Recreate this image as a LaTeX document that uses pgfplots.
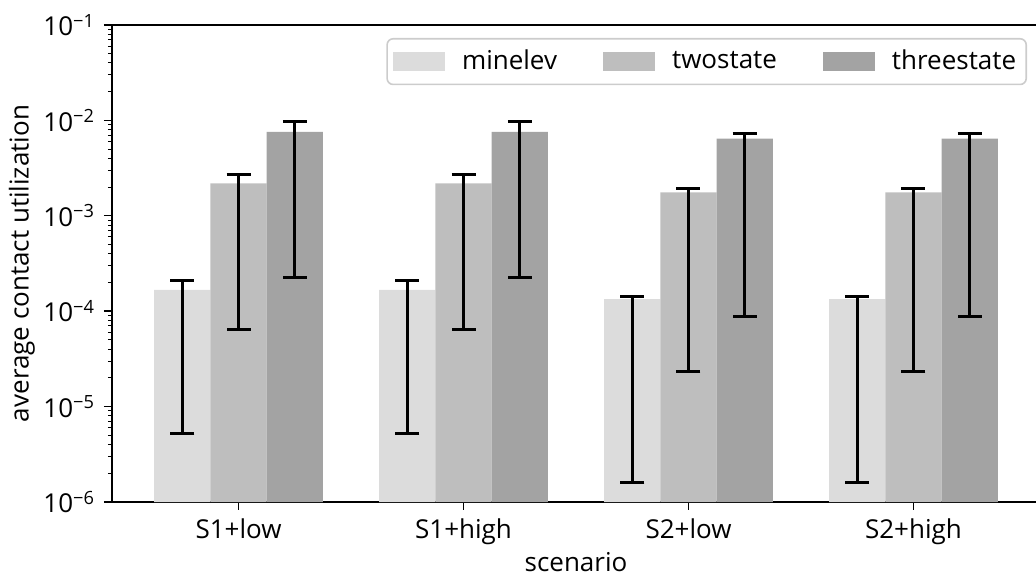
\documentclass[border=0pt]{standalone}
\usepackage{pgfplots}
\pgfplotsset{compat=1.18}
\usepackage{fontspec}
\setmainfont{Open Sans}
\definecolor{cMin}{RGB}{220,220,220}
\definecolor{cTwo}{RGB}{190,190,190}
\definecolor{cThree}{RGB}{163,163,163}
\begin{document}
\fontsize{13pt}{15pt}\selectfont
\begin{tikzpicture}
\begin{axis}[
  scale only axis,
  width=464pt, height=238.5pt,
  ymode=log,
  log origin y=infty,
  ymin=1e-6, ymax=1e-1,
  xmin=-0.5625, xmax=3.5625,
  xtick={0,1,2,3},
  xticklabels={S1+low,S1+high,S2+low,S2+high},
  ytick={1e-6,1e-5,1e-4,1e-3,1e-2,1e-1},
  minor ytick={2e-6,3e-6,4e-6,5e-6,6e-6,7e-6,8e-6,9e-6,
               2e-5,3e-5,4e-5,5e-5,6e-5,7e-5,8e-5,9e-5,
               2e-4,3e-4,4e-4,5e-4,6e-4,7e-4,8e-4,9e-4,
               2e-3,3e-3,4e-3,5e-3,6e-3,7e-3,8e-3,9e-3,
               2e-2,3e-2,4e-2,5e-2,6e-2,7e-2,8e-2,9e-2},
  yticklabels={10\textsuperscript{−6},10\textsuperscript{−5},10\textsuperscript{−4},10\textsuperscript{−3},10\textsuperscript{−2},10\textsuperscript{−1}},
  tick pos=left,
  tick align=outside,
  major tick length=4pt,
  minor tick length=2pt,
  tick style={black, line width=0.7pt},
  minor tick style={black, line width=0.5pt},
  axis line style={line width=0.8pt},
  ybar=0pt,
  bar width=0.25,
  xlabel={scenario},
  ylabel={average contact utilization},
  every axis x label/.style={at={(axis description cs:0.5,-0.127)}, anchor=center},
  every axis y label/.style={at={(axis description cs:-0.097,0.5)}, rotate=90, anchor=center},
  legend columns=3,
  legend style={at={(1,1)}, anchor=north east, xshift=-6.5pt, yshift=-6.5pt,
    draw=black!20, line width=0.8pt, rounded corners=3pt, fill=white,
    inner xsep=3pt, inner ysep=3.5pt,
    /tikz/every odd column/.append style={column sep=6.5pt},
    /tikz/every even column/.append style={column sep=21pt}},
  legend image code/.code={\fill[#1, sharp corners] (0pt,-4.75pt) rectangle (26pt,4.75pt);},
  error bars/y dir=both,
  error bars/y explicit,
  error bars/error mark options={rotate=90, mark size=6pt, line width=1.5pt, black},
  error bars/error bar style={line width=1.5pt, black},
]
\addplot[fill=cMin, draw=none, bar shift=-0.25] table[x=x, y=y, y error plus=ep, y error minus=em] {
x y ep em
0 1.67e-4 0.42e-4 1.618e-4
1 1.67e-4 0.42e-4 1.618e-4
2 1.34e-4 0.10e-4 1.3238e-4
3 1.34e-4 0.10e-4 1.3238e-4
};
\addplot[fill=cTwo, draw=none, bar shift=0] table[x=x, y=y, y error plus=ep, y error minus=em] {
x y ep em
0 2.19e-3 0.55e-3 2.1255e-3
1 2.19e-3 0.55e-3 2.1255e-3
2 1.76e-3 0.15e-3 1.7364e-3
3 1.76e-3 0.15e-3 1.7364e-3
};
\addplot[fill=cThree, draw=none, bar shift=0.25] table[x=x, y=y, y error plus=ep, y error minus=em] {
x y ep em
0 7.56e-3 2.14e-3 7.334e-3
1 7.56e-3 2.14e-3 7.334e-3
2 6.45e-3 0.86e-3 6.361e-3
3 6.45e-3 0.86e-3 6.361e-3
};
\legend{minelev,twostate,threestate}
\end{axis}
\pgfresetboundingbox
\path[use as bounding box] (-56pt,-37pt) rectangle (462pt,251pt);
\end{tikzpicture}
\end{document}
